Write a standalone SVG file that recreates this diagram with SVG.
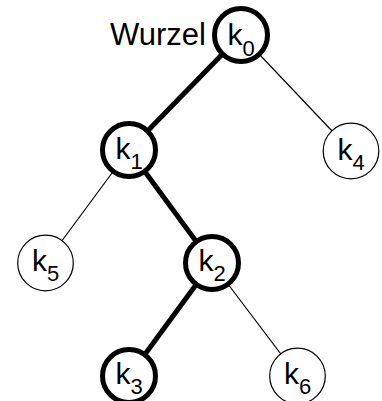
<svg xmlns="http://www.w3.org/2000/svg" width="382" height="401" viewBox="0 0 382 401">
<style>
.thick{stroke:#000;stroke-width:5;fill:#fff}
.thin{stroke:#000;stroke-width:1.2;fill:#fff}
.e1{stroke:#000;stroke-width:5;fill:none}
.e2{stroke:#000;stroke-width:1.2;fill:none}
text{font-family:"Liberation Sans",Arial,sans-serif;fill:#000}
.k{font-size:30px}
.s{font-size:22px}
.lbl{font-size:31px}
</style>
<rect width="382" height="401" fill="#fff"/>
<g id="connectors">
<line class="e1" x1="241" y1="35" x2="129" y2="150"/>
<line class="e2" x1="241" y1="35" x2="351" y2="151"/>
<line class="e2" x1="129" y1="150" x2="45.5" y2="263"/>
<line class="e1" x1="129" y1="150" x2="212" y2="263"/>
<line class="e1" x1="212" y1="263" x2="129" y2="376"/>
<line class="e2" x1="212" y1="263" x2="297.5" y2="376"/>
</g>
<text class="lbl" x="206" y="45" text-anchor="end">Wurzel</text>
<g id="k0"><circle class="thick" cx="241" cy="35" r="26.5"/><text x="227.5" y="45"><tspan class="k">k</tspan><tspan class="s" dy="11">0</tspan></text></g>
<g id="k1"><circle class="thick" cx="129" cy="150" r="26.5"/><text x="115.5" y="158.5"><tspan class="k">k</tspan><tspan class="s" dy="10.5">1</tspan></text></g>
<g id="k4"><circle class="thin" cx="351" cy="151" r="27.8"/><text x="337.5" y="159.5"><tspan class="k">k</tspan><tspan class="s" dy="10.5">4</tspan></text></g>
<g id="k5"><circle class="thin" cx="45.5" cy="263" r="27.8"/><text x="32" y="270.5"><tspan class="k">k</tspan><tspan class="s" dy="10.5">5</tspan></text></g>
<g id="k2"><circle class="thick" cx="212" cy="263" r="26.5"/><text x="198.5" y="270.5"><tspan class="k">k</tspan><tspan class="s" dy="10.5">2</tspan></text></g>
<g id="k3"><circle class="thick" cx="129" cy="376" r="26.5"/><text x="115.5" y="383.5"><tspan class="k">k</tspan><tspan class="s" dy="10.5">3</tspan></text></g>
<g id="k6"><circle class="thin" cx="297.5" cy="376" r="27.8"/><text x="284" y="383.5"><tspan class="k">k</tspan><tspan class="s" dy="10.5">6</tspan></text></g>
</svg>
